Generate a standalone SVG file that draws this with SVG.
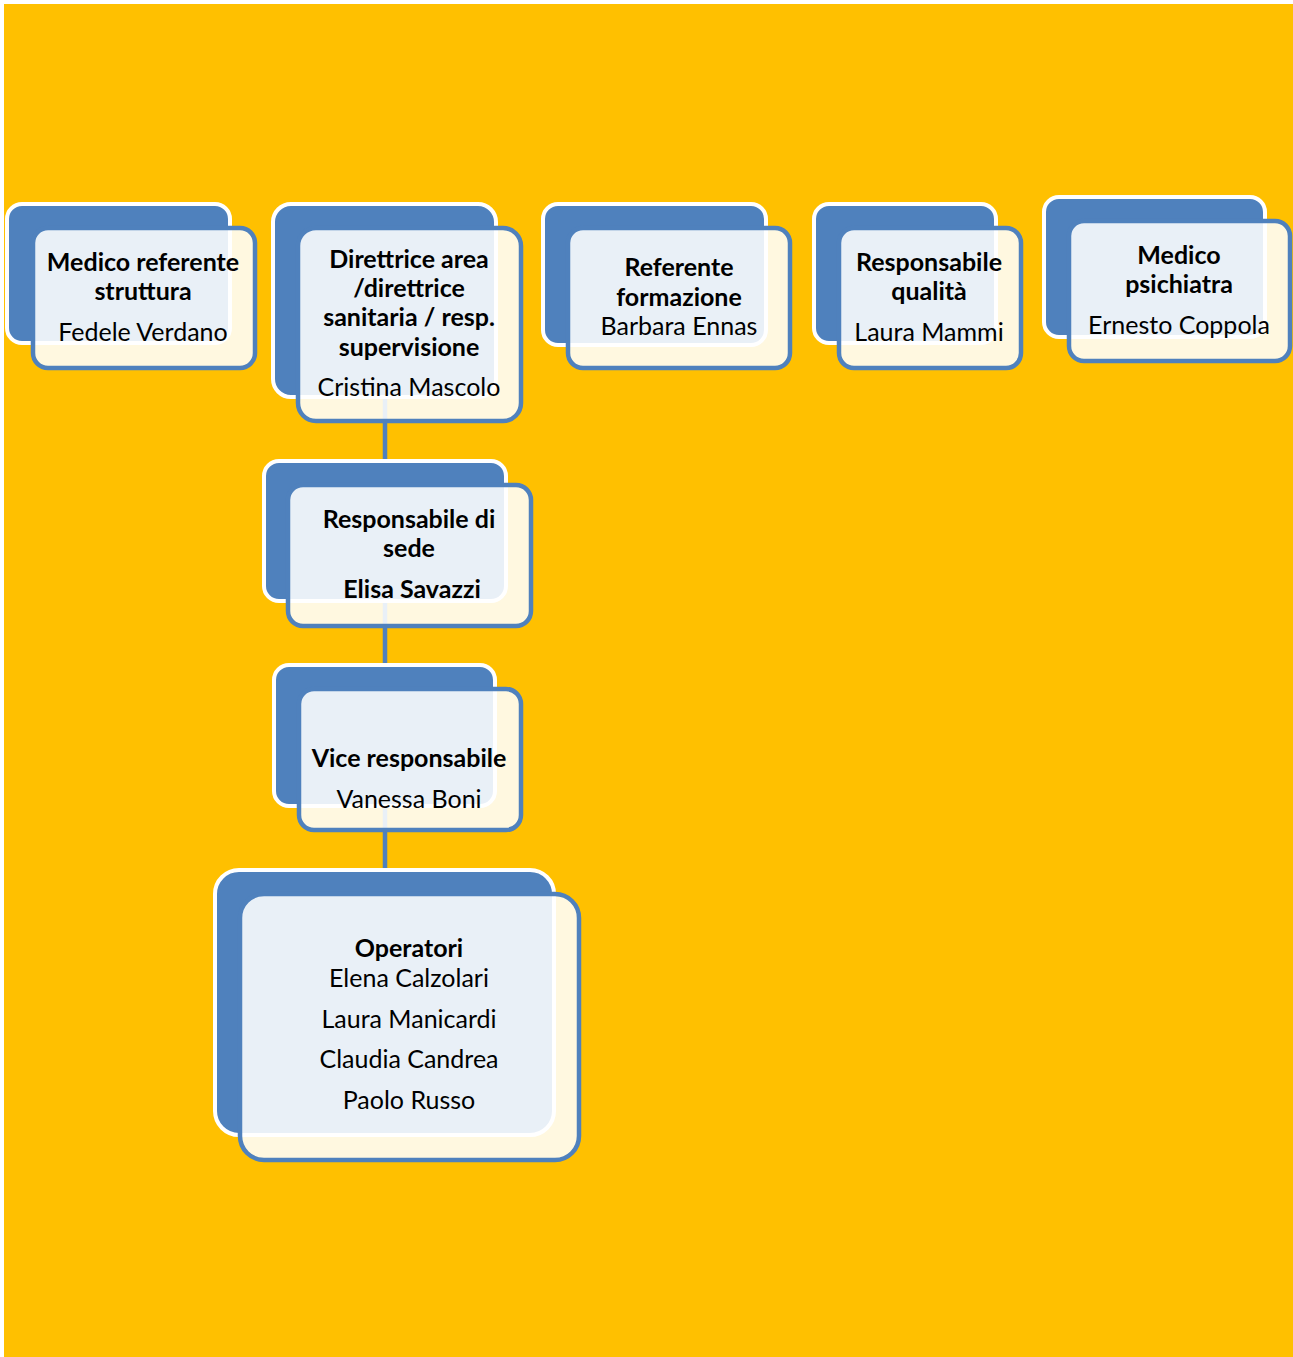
<svg xmlns="http://www.w3.org/2000/svg" width="1293" height="1357" viewBox="0 0 1293 1357">
<style>
.bg{fill:#FFC000}
.back{fill:#4F81BD;stroke:#FFFFFF;stroke-width:4}
.front{fill:#FFFFFF;fill-opacity:0.88;stroke:#4F81BD;stroke-width:4.5}
.conn{stroke:#4F81BD;stroke-width:4.5;fill:none}
text{font-family:Lato,"Open Sans",sans-serif;font-size:25px;fill:#000000;text-anchor:middle}
.b{font-weight:bold}
</style>
<rect class="bg" x="4" y="4" width="1289" height="1353"/>
<g id="connectors">
<line class="conn" x1="385" y1="398" x2="385" y2="870"/>
</g>
<g id="node-medico-referente">
<rect class="back" x="7" y="204" width="223" height="139" rx="15"/>
<rect class="front" x="33" y="228" width="222" height="140" rx="15"/>
<text class="b" x="143" y="271">Medico referente</text>
<text class="b" x="143" y="300">struttura</text>
<text x="143" y="341">Fedele Verdano</text>
</g>
<g id="node-direttrice">
<rect class="back" x="273" y="204" width="223" height="193" rx="18"/>
<rect class="front" x="298" y="228" width="223" height="193" rx="18"/>
<text class="b" x="409" y="268">Direttrice area</text>
<text class="b" x="409" y="297">/direttrice</text>
<text class="b" x="409" y="326">sanitaria / resp.</text>
<text class="b" x="409" y="356">supervisione</text>
<text x="409" y="396">Cristina Mascolo</text>
</g>
<g id="node-referente-formazione">
<rect class="back" x="543" y="204" width="223" height="141" rx="15"/>
<rect class="front" x="568" y="228" width="222" height="140" rx="15"/>
<text class="b" x="679" y="276">Referente</text>
<text class="b" x="679" y="306">formazione</text>
<text x="679" y="335">Barbara Ennas</text>
</g>
<g id="node-responsabile-qualita">
<rect class="back" x="814" y="204" width="182" height="139" rx="15"/>
<rect class="front" x="839" y="228" width="182" height="140" rx="15"/>
<text class="b" x="929" y="271">Responsabile</text>
<text class="b" x="929" y="300">qualità</text>
<text x="929" y="341">Laura Mammi</text>
</g>
<g id="node-medico-psichiatra">
<rect class="back" x="1044" y="197" width="221" height="140" rx="15"/>
<rect class="front" x="1069" y="221" width="221" height="140" rx="15"/>
<text class="b" x="1179" y="264">Medico</text>
<text class="b" x="1179" y="293">psichiatra</text>
<text x="1179" y="334">Ernesto Coppola</text>
</g>
<g id="node-responsabile-sede">
<rect class="back" x="264" y="461" width="242" height="140" rx="15"/>
<rect class="front" x="288" y="485" width="243" height="141" rx="15"/>
<text class="b" x="409" y="528">Responsabile di</text>
<text class="b" x="409" y="557">sede</text>
<text class="b" x="412" y="598">Elisa Savazzi</text>
</g>
<g id="node-vice-responsabile">
<rect class="back" x="274" y="665" width="221" height="141" rx="15"/>
<rect class="front" x="299" y="689" width="222" height="141" rx="15"/>
<text class="b" x="409" y="767">Vice responsabile</text>
<text x="409" y="808">Vanessa Boni</text>
</g>
<g id="node-operatori">
<rect class="back" x="215" y="870" width="339" height="265" rx="24"/>
<rect class="front" x="240" y="894" width="339" height="266" rx="24"/>
<text class="b" x="409" y="957">Operatori</text>
<text x="409" y="987">Elena Calzolari</text>
<text x="409" y="1028">Laura Manicardi</text>
<text x="409" y="1068">Claudia Candrea</text>
<text x="409" y="1109">Paolo Russo</text>
</g>
</svg>
